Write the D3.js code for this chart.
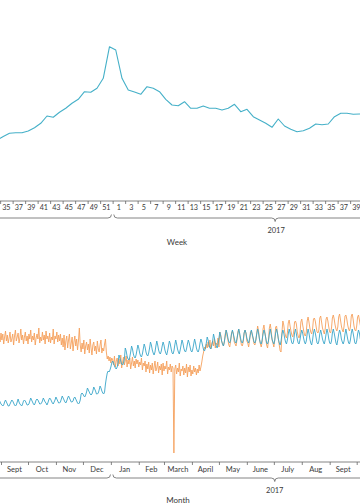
<!DOCTYPE html>
<html>
<head>
<meta charset="utf-8">
<script src="https://cdn.jsdelivr.net/npm/d3@7/dist/d3.min.js"></script>
<style>
  html, body { margin: 0; padding: 0; background: #fff; }
  svg { display: block; }
  text { font-family: Lato, "Open Sans", sans-serif; fill: #3a3a3a; }
</style>
</head>
<body>
<svg id="chart" width="360" height="504"></svg>
<script>
// ---------------- DATA ----------------
// Top panel: weekly series (arbitrary units, no y axis shown)
const weeks2016 = [33,34,35,36,37,38,39,40,41,42,43,44,45,46,47,48,49,50,51,52];
const weekly2016 = [60,63.5,66.7,67.3,67.3,69,72.3,76.7,84,82.7,87.7,91.7,96.7,100.7,108.3,107.7,111.7,121.7,153.3,150];
const weeks2017 = [1,2,3,4,5,6,7,8,9,10,11,12,13,14,15,16,17,18,19,20,21,22,23,24,25,26,27,28,29,30,31,32,33,34,35,36,37,38,39,40];
const weekly2017 = [121.7,110,108,105.7,113.3,111.7,108.3,100.7,95,94.3,98.3,91.7,91.7,94,91.7,91.7,90,91.7,95.7,88.3,90.7,83.3,80,76.7,72.7,81,74,70.7,68.3,69.3,71.7,76,75.3,76,83.3,86.7,86.7,85.7,86,86];
const weekTickLabels2016 = [35,37,39,41,43,45,47,49,51];
const weekTickLabels2017 = [1,3,5,7,9,11,13,15,17,19,21,23,25,27,29,31,33,35,37,39];

// Bottom panel: daily series starting 2016-08-30 (arbitrary units)
const dailyStart = "2016-08-30";
const dailyBlue = [
  60,58,56,55,54,55,58,  60,58,56,54,54,56,58,  60,59,57,55,54,55,58,  61,58,56,55,54,56,59,
  60,59,57,55,55,56,59,  62,60,58,56,55,57,60,  61,60,58,56,56,57,59,  62,60,58,57,55,57,60,
  62,61,59,57,56,58,60,  63,61,59,57,57,58,61,  64,62,60,58,57,59,62,  64,62,60,58,58,59,62,
  63,61,59,57,56,57,60,  66,67,66,64,63,65,68,  72,70,68,66,65,66,69,  73,71,69,66,66,67,70,
  74,72,69,67,66,68,76,  82,87,89,88,90,93,97,  99,97,94,92,91,93,97,  105,102,99,96,95,97,101,
  112,109,104,101,100,103,108,  114,111,106,103,102,105,110,  115,112,107,104,103,106,111,  116,113,108,105,104,107,112,
  118,115,110,107,105,108,114,  119,115,110,107,106,109,114,  118,115,110,107,105,109,114,  119,116,111,107,106,109,115,
  120,116,111,108,106,110,115,  120,117,112,109,108,111,116,  120,117,113,109,108,111,116,  121,117,112,109,108,111,117,
  121,118,114,110,109,112,117,  123,120,115,112,111,114,119,  126,122,117,114,112,116,122,  128,124,119,116,114,118,124,
  130,127,122,118,117,120,126,  130,126,122,118,117,121,126,  131,127,122,118,117,120,127,  130,127,122,119,117,121,126,
  130,126,122,118,117,120,126,  131,127,121,117,116,120,126,  130,127,122,117,116,119,126,  131,126,121,118,116,120,127,
  131,127,121,117,115,119,126,  130,127,122,118,116,120,126,  131,127,121,117,116,119,127,  131,126,121,117,116,120,126,
  130,127,122,118,116,119,126,  131,127,121,117,115,120,127,  131,127,122,117,116,119,126,  130,126,121,118,116,120,126,
  131,127,121,117,116,119,127,  131,127,122,117,115,120,126,  130,127,121,118,116,119,126,  131,126,121,117,116,120,127,
  131,127,122,117,116,119,126,  130,127,121,118,116,120,126
];
const dailyOrange = [
  124,118,127,120,126,116,123,  129,119,125,117,122,128,118,  121,126,115,124,130,119,123,  127,117,122,131,120,125,116,
  123,128,119,124,116,126,121,  130,118,124,120,127,115,122,  126,121,132,117,123,119,128,  120,125,116,129,121,124,118,
  127,117,123,120,131,116,124,  121,128,118,125,119,126,115,  122,113,125,110,119,124,112,  120,126,111,117,123,109,118,
  124,114,121,110,119,132,115,  108,117,111,120,106,114,118,  110,116,107,121,112,105,115,  118,109,114,106,119,111,108,
  115,120,107,112,109,116,121,  108,101,104,99,103,97,102,  100,95,104,93,99,102,94,  101,96,105,92,98,103,95,
  99,104,93,100,96,102,91,  97,103,94,99,92,101,96,  100,93,98,95,102,90,97,  94,99,88,96,91,98,87,
  95,90,97,86,93,99,89,  92,98,87,94,90,96,85,  97,89,94,91,99,86,93,  90,96,88,94,92,7,91,
  95,86,92,88,97,84,91,  89,94,85,92,87,96,83,  93,88,95,84,90,86,94,  88,92,85,91,87,95,89,
  93,98,104,108,113,111,116,  112,118,113,120,111,116,119,  114,121,112,117,115,122,113,  128,125,119,116,114,118,126,
  130,124,120,115,113,119,127,  129,126,118,116,114,120,128,  131,125,120,115,114,118,127,  130,127,119,117,113,119,128,
  129,125,121,116,115,120,127,  134,129,121,116,113,118,131,  135,128,122,115,112,119,132,  136,130,120,117,113,120,133,
  134,127,121,115,109,108,128,  139,135,128,124,122,127,137,  140,134,129,125,123,128,138,  139,136,128,124,122,126,138,
  141,135,130,125,124,128,139,  143,138,132,128,126,131,141,  142,139,133,128,127,130,142,  144,138,132,129,126,131,141,
  143,139,133,128,127,132,142,  145,141,135,131,129,133,143,  146,140,134,130,128,134,144,  145,141,135,131,129,133,144,
  146,141,134,130,129,134,143,  145,140,135,131,128,133,144
];
const monthLabels = ["Sept","Oct","Nov","Dec","Jan","Feb","March","April","May","June","July","Aug","Sept"];
const yearLabel = "2017";

// ---------------- LAYOUT ----------------
const W = 360, H = 504;
const svg = d3.select("#chart");
const teal = "#45b0c8";
const blue = "#3aa6c9";
const orange = "#f5a05c";
const axisColor = "#666";

// brace path: ends curl up, optional centre notch pointing down
function bracePath(xa, xb, y, r, xc) {
  let p = `M${xa},${y - r} Q${xa},${y} ${xa + r},${y}`;
  if (xc !== null && xc > xa && xc < xb) {
    p += ` L${xc - r},${y} Q${xc},${y} ${xc},${y + r} Q${xc},${y} ${xc + r},${y}`;
  }
  p += ` L${xb - r},${y} Q${xb},${y} ${xb},${y - r}`;
  return p;
}

// ---------------- TOP PANEL ----------------
const xWeek = d3.scaleLinear().domain([35, 91]).range([9.5, 359.5]);
const yTop = d3.scaleLinear().domain([0, 160]).range([200, 40]);
const weeklyPts = weeks2016.map((w, i) => ({ idx: w, v: weekly2016[i] }))
  .concat(weeks2017.map((w, i) => ({ idx: 52 + w, v: weekly2017[i] })));

svg.append("path")
  .datum(weeklyPts)
  .attr("fill", "none")
  .attr("stroke", teal)
  .attr("stroke-width", 1.1)
  .attr("stroke-linejoin", "round")
  .attr("d", d3.line().x(d => xWeek(d.idx)).y(d => yTop(d.v)));

const topAxisY = 201;
const gTopAxis = svg.append("g").attr("transform", `translate(0,${topAxisY})`);
gTopAxis.append("line").attr("x1", 0).attr("x2", W).attr("stroke", axisColor).attr("stroke-width", 0.8);
const topTickIdx = d3.range(33.5, 93, 2);
gTopAxis.call(d3.axisBottom(xWeek).tickValues(topTickIdx).tickSizeInner(3).tickSizeOuter(0).tickFormat(""))
  .call(g => g.select(".domain").remove())
  .call(g => g.selectAll(".tick line").attr("stroke", axisColor).attr("stroke-width", 0.8));

const topLabels = weekTickLabels2016.map(w => ({ t: w, idx: w - 0.5 }))
  .concat(weekTickLabels2017.map(w => ({ t: w, idx: 52 + w - 0.5 })));
svg.append("g").selectAll("text").data(topLabels).join("text")
  .attr("x", d => xWeek(d.idx)).attr("y", 210)
  .attr("text-anchor", "middle").attr("font-size", 7.2)
  .text(d => d.t);

const topBoundary = xWeek(51.5);
svg.append("path").attr("fill", "none").attr("stroke", axisColor).attr("stroke-width", 0.8)
  .attr("d", bracePath(xWeek(-0.5), topBoundary - 1.2, 218, 3.5, xWeek(25.5)));
svg.append("path").attr("fill", "none").attr("stroke", axisColor).attr("stroke-width", 0.8)
  .attr("d", bracePath(topBoundary + 1.2, xWeek(103.5), 218, 3.5, xWeek(77.5)));
svg.append("text").attr("x", xWeek(77.5) + 1).attr("y", 232.8)
  .attr("text-anchor", "middle").attr("font-size", 7.5).text(yearLabel);
svg.append("text").attr("x", 177).attr("y", 245)
  .attr("text-anchor", "middle").attr("font-size", 8).text("Week");

// ---------------- BOTTOM PANEL ----------------
const parseUtc = d3.utcParse("%Y-%m-%d");
const t0 = parseUtc(dailyStart);
const xDay = d3.scaleUtc().domain([parseUtc("2016-09-01"), parseUtc("2017-10-01")]).range([1, 356.7]);
const yBot = d3.scaleLinear().domain([0, 160]).range([460, 300]);

const blueData = dailyBlue.map((v, i) => ({ date: d3.utcDay.offset(t0, i), v }));
const orangeData = dailyOrange.map((v, i) => ({ date: d3.utcDay.offset(t0, i), v }));
const dayLine = d3.line().x(d => xDay(d.date)).y(d => yBot(d.v));

svg.append("path").datum(orangeData)
  .attr("fill", "none").attr("stroke", orange).attr("stroke-width", 0.9)
  .attr("stroke-linejoin", "round").attr("d", dayLine);
svg.append("path").datum(blueData)
  .attr("fill", "none").attr("stroke", blue).attr("stroke-width", 0.9)
  .attr("stroke-linejoin", "round").attr("d", dayLine);

const botAxisY = 462;
const gBotAxis = svg.append("g").attr("transform", `translate(0,${botAxisY})`);
gBotAxis.append("line").attr("x1", 0).attr("x2", W).attr("stroke", axisColor).attr("stroke-width", 0.8);
const monthStarts = d3.utcMonth.range(parseUtc("2016-09-01"), parseUtc("2017-10-02"));
gBotAxis.call(d3.axisBottom(xDay).tickValues(monthStarts).tickSizeInner(3).tickSizeOuter(0).tickFormat(""))
  .call(g => g.select(".domain").remove())
  .call(g => g.selectAll(".tick line").attr("stroke", axisColor).attr("stroke-width", 0.8));

const monthMids = monthStarts.slice(0, monthLabels.length).map((m, i) => ({
  t: monthLabels[i],
  x: (xDay(m) + xDay(d3.utcMonth.offset(m, 1))) / 2
}));
svg.append("g").selectAll("text").data(monthMids).join("text")
  .attr("x", d => d.x).attr("y", 472)
  .attr("text-anchor", "middle").attr("font-size", 7.5)
  .text(d => d.t);

const botBoundary = xDay(parseUtc("2017-01-01")) + 0.8;
svg.append("path").attr("fill", "none").attr("stroke", axisColor).attr("stroke-width", 0.8)
  .attr("d", bracePath(xDay(parseUtc("2016-01-01")), botBoundary - 1.2, 478, 3.5, xDay(parseUtc("2016-07-02"))));
svg.append("path").attr("fill", "none").attr("stroke", axisColor).attr("stroke-width", 0.8)
  .attr("d", bracePath(botBoundary + 1.2, xDay(parseUtc("2018-01-01")), 478, 3.5, xDay(parseUtc("2017-07-02"))));
svg.append("text").attr("x", xDay(parseUtc("2017-07-02"))).attr("y", 492.8)
  .attr("text-anchor", "middle").attr("font-size", 7.5).text(yearLabel);
svg.append("text").attr("x", 178).attr("y", 503.3)
  .attr("text-anchor", "middle").attr("font-size", 8).text("Month");
</script>
</body>
</html>
